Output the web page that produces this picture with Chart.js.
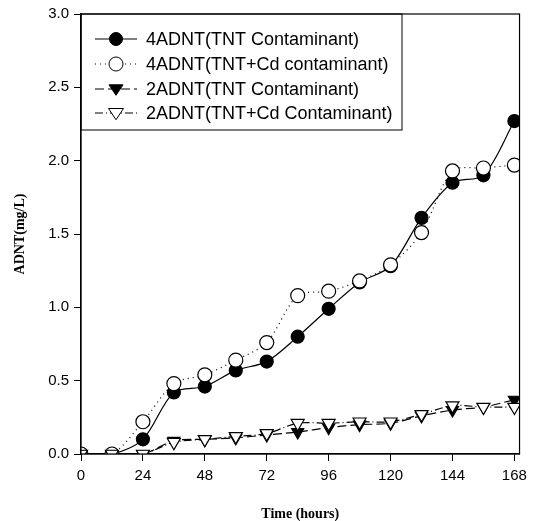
<!DOCTYPE html>
<html>
<head>
<meta charset="utf-8">
<script src="https://cdn.jsdelivr.net/npm/chart.js@4"></script>
<style>
  html, body { margin: 0; padding: 0; background: #fff; }
  #wrap { width: 533px; height: 521px; }
</style>
</head>
<body>
<div id="wrap"><canvas id="adntChart"></canvas></div>
<script>
// Datos
const hours = [0, 12, 24, 36, 48, 60, 72, 84, 96, 108, 120, 132, 144, 156, 168];
const adnt4Tnt   = [0, 0, 0.10, 0.42, 0.46, 0.57, 0.63, 0.80, 0.99, 1.17, 1.28, 1.61, 1.85, 1.90, 2.27];
const adnt4TntCd = [0, 0, 0.22, 0.48, 0.54, 0.64, 0.76, 1.08, 1.11, 1.18, 1.29, 1.51, 1.93, 1.95, 1.97];
const adnt2Tnt   = [0, 0, 0, 0.09, 0.10, 0.11, 0.13, 0.15, 0.18, 0.20, 0.21, 0.26, 0.30, 0.32, 0.37];
const adnt2TntCd = [0, 0, 0, 0.08, 0.10, 0.12, 0.14, 0.21, 0.21, 0.22, 0.22, 0.27, 0.33, 0.32, 0.32];
const seriesLabels = [
    '4ADNT(TNT Contaminant)',
    '4ADNT(TNT+Cd contaminant)',
    '2ADNT(TNT Contaminant)',
    '2ADNT(TNT+Cd Contaminant)'
];
const yTicks = [0, 0.5, 1.0, 1.5, 2.0, 2.5, 3.0];

const pts = (vals) => hours.map((h, i) => ({ x: h, y: vals[i] }));

// Marco completo y leyenda dentro del área
const framePlugin = {
    id: 'frame',
    afterDraw(chart) {
        const { ctx, chartArea: a } = chart;
        ctx.save();
        ctx.strokeStyle = '#000';
        ctx.lineWidth = 1.2;
        ctx.strokeRect(a.left, a.top, a.right - a.left, a.bottom - a.top);

        // leyenda
        const boxRight = 402, boxBottom = 130;
        ctx.lineWidth = 1;
        ctx.strokeRect(a.left, a.top, boxRight - a.left, boxBottom - a.top);
        const rows = [39, 64, 89, 113];
        chart.data.datasets.forEach((ds, i) => {
            const y = rows[i];
            ctx.strokeStyle = '#000';
            ctx.lineWidth = ds.borderWidth;
            ctx.setLineDash(ds.borderDash || []);
            ctx.beginPath();
            ctx.moveTo(95, y);
            ctx.lineTo(137, y);
            ctx.stroke();
            ctx.setLineDash([]);
            ctx.fillStyle = ds.pointBackgroundColor;
            ctx.strokeStyle = '#000';
            ctx.lineWidth = 1;
            ctx.beginPath();
            const r = ds.pointRadius;
            if (ds.pointStyle === 'circle') {
                ctx.arc(116, y, r, 0, Math.PI * 2);
            } else {
                ctx.moveTo(116 - r, y - r * 0.6);
                ctx.lineTo(116 + r, y - r * 0.6);
                ctx.lineTo(116, y + r * 0.9);
                ctx.closePath();
            }
            ctx.fill();
            ctx.stroke();
            ctx.fillStyle = '#000';
            ctx.font = '18px "Liberation Sans", Arial, sans-serif';
            ctx.textBaseline = 'middle';
            ctx.fillText(ds.label, 146, y + 1);
        });
        ctx.restore();
    }
};

const ctx = document.getElementById('adntChart').getContext('2d');
new Chart(ctx, {
    type: 'line',
    data: {
        datasets: [
            {
                label: seriesLabels[0], data: pts(adnt4Tnt),
                borderColor: '#000', borderWidth: 1.2, borderDash: [],
                pointStyle: 'circle', pointRadius: 6.5,
                pointBackgroundColor: '#000', pointBorderColor: '#000',
                tension: 0.3, order: 4
            },
            {
                label: seriesLabels[1], data: pts(adnt4TntCd),
                borderColor: '#000', borderWidth: 1.2, borderDash: [1, 4],
                pointStyle: 'circle', pointRadius: 7,
                pointBackgroundColor: '#fff', pointBorderColor: '#000',
                tension: 0.3, order: 3
            },
            {
                label: seriesLabels[2], data: pts(adnt2Tnt),
                borderColor: '#000', borderWidth: 1.2, borderDash: [9, 4],
                pointStyle: 'triangle', pointRotation: 180, pointRadius: 7,
                pointBackgroundColor: '#000', pointBorderColor: '#000',
                tension: 0.3, order: 2
            },
            {
                label: seriesLabels[3], data: pts(adnt2TntCd),
                borderColor: '#000', borderWidth: 1.2, borderDash: [8, 3, 1, 3],
                pointStyle: 'triangle', pointRotation: 180, pointRadius: 7.5,
                pointBackgroundColor: '#fff', pointBorderColor: '#000',
                tension: 0.3, order: 1
            }
        ]
    },
    options: {
        responsive: true, maintainAspectRatio: false, animation: false,
        layout: { padding: { top: 14, right: 9, left: 0, bottom: 0 } },
        plugins: { legend: { display: false }, tooltip: { enabled: false } },
        scales: {
            x: {
                type: 'linear', min: 0, max: 170,
                afterFit: (s) => { s.height = 67; },
                afterBuildTicks: (s) => { s.ticks = hours.filter(h => h % 24 === 0).map(v => ({ value: v })); },
                grid: { display: true, drawOnChartArea: false, drawTicks: true, tickLength: 7, color: '#000' },
                border: { color: '#000', width: 1.2 },
                ticks: { color: '#000', padding: 6, font: { family: '"Liberation Sans", Arial', size: 15 } },
                title: {
                    display: true, text: 'Time (hours)', color: '#000',
                    font: { family: '"Liberation Serif", "Times New Roman", serif', size: 14, weight: 'bold' },
                    padding: { top: 4, bottom: -2 }
                }
            },
            y: {
                min: 0, max: 3,
                afterFit: (s) => { s.width = 81; },
                afterBuildTicks: (s) => { s.ticks = yTicks.map(v => ({ value: v })); },
                grid: { display: true, drawOnChartArea: false, drawTicks: true, tickLength: 7, color: '#000' },
                border: { color: '#000', width: 1.2 },
                ticks: {
                    color: '#000', padding: 5,
                    font: { family: '"Liberation Sans", Arial', size: 15 },
                    callback: (v) => v.toFixed(1)
                },
                title: {
                    display: true, text: 'ADNT(mg/L)', color: '#000',
                    font: { family: '"Liberation Serif", "Times New Roman", serif', size: 14, weight: 'bold' },
                    padding: { bottom: 0, top: 12 }
                }
            }
        }
    },
    plugins: [framePlugin]
});
</script>
</body>
</html>
